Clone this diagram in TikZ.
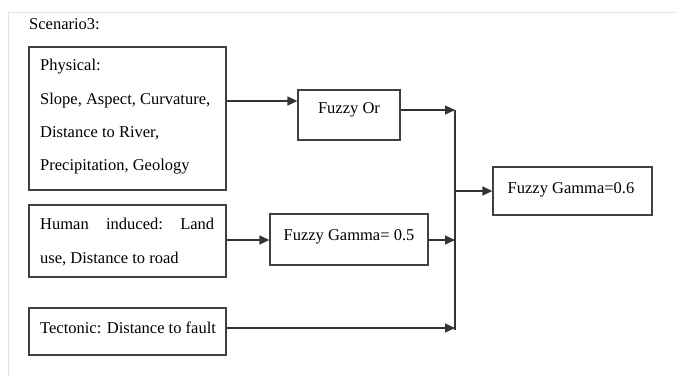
\documentclass[tikz,border=0pt]{standalone}
\usepackage{fontspec}
\setmainfont{Liberation Serif}
\usetikzlibrary{arrows.meta}
\begin{document}
\begin{tikzpicture}[x=1pt,y=-1pt,
  every node/.style={font=\fontsize{16.5}{20}\selectfont, text=black},
  box/.style={draw=black!75, line width=1.3pt, rectangle, inner sep=0pt},
  txt/.style={inner sep=0pt},
  link/.style={draw=black!80, line width=1.3pt},
  arr/.style={link, -{Triangle[length=10pt,width=9pt]}}]
  \useasboundingbox (0,0) rectangle (675,376);
  % faint page frame
  \draw[black!12, line width=1pt] (8,376) -- (8,12) -- (675,12);

  \node[txt, anchor=base west] (title) at (29,29) {Scenario3:};

  % input boxes
  \node[box, minimum width=197pt, minimum height=143pt] (phys) at (127.5,118.5) {};
  \node[txt, anchor=base west] (p1) at (40,70) {Physical:};
  \node[txt, anchor=base west] (p2) at (40,104) {Slope, Aspect, Curvature,};
  \node[txt, anchor=base west] (p3) at (40,137) {Distance to River,};
  \node[txt, anchor=base west] (p4) at (40,170) {Precipitation, Geology};

  \node[box, minimum width=197pt, minimum height=72pt] (human) at (127.5,241) {};
  \node[txt, anchor=base west] (h1) at (40,229) {\hbox to 174pt{Human\hfill induced:\hfill Land}};
  \node[txt, anchor=base west] (h2) at (40,263) {use, Distance to road};

  \node[box, minimum width=197pt, minimum height=47pt] (tect) at (127.5,331.5) {};
  \node[txt, anchor=base west] (t1) at (40,333) {Tectonic: Distance to fault};

  % operator boxes
  \node[box, minimum width=102pt, minimum height=50pt] (for) at (349,115) {};
  \node[txt, anchor=base] (fort) at (349,113) {Fuzzy Or};

  \node[box, minimum width=158pt, minimum height=51pt] (fg5) at (349,239.5) {};
  \node[txt, anchor=base] (fg5t) at (349,240) {Fuzzy Gamma= 0.5};

  \node[box, minimum width=159pt, minimum height=48pt] (fg6) at (572.5,191) {};
  \node[txt, anchor=base] (fg6t) at (571,193) {Fuzzy Gamma=0.6};

  % collecting bar
  \coordinate (bt) at (455,110);
  \coordinate (bb) at (455,330);
  \coordinate (r1) at (0,101);
  \coordinate (r2) at (0,110);
  \coordinate (r3) at (0,191);
  \coordinate (r4) at (0,240);
  \coordinate (r5) at (0,328);
  \draw[link] (bt) -- (bb);

  % connectors
  \draw[arr] (phys.east |- r1) -- (for.west |- r1);
  \draw[arr] (for.east |- r2) -- (bt);
  \draw[arr] (human.east |- r4) -- (fg5.west |- r4);
  \draw[arr] (fg5.east |- r4) -- (bt |- r4);
  \draw[arr] (tect.east |- r5) -- (bt |- r5);
  \draw[arr] (bt |- r3) -- (fg6.west |- r3);
\end{tikzpicture}
\end{document}
